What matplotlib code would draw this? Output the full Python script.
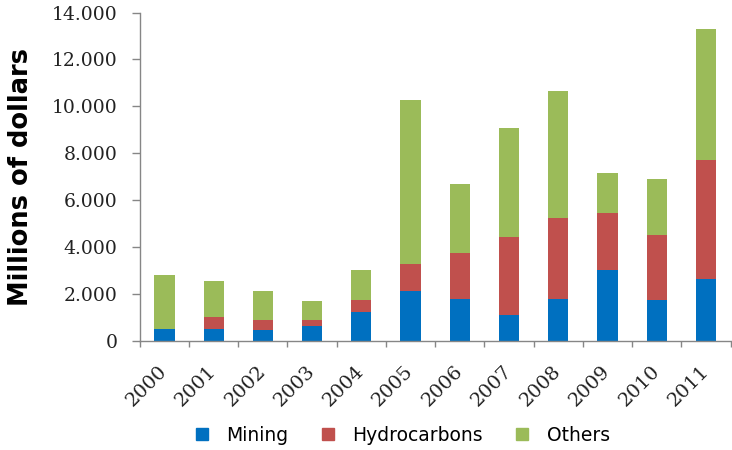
import matplotlib
matplotlib.use('Agg')
import matplotlib.pyplot as plt
from matplotlib.ticker import FuncFormatter, MultipleLocator
from matplotlib.lines import Line2D
import numpy as np

years = ['2000', '2001', '2002', '2003', '2004', '2005',
         '2006', '2007', '2008', '2009', '2010', '2011']
mining = [500, 500, 457, 628, 1227, 2137, 1782, 1086, 1795, 3022, 1740, 2624]
hydrocarbons = [-40, 526, 441, 270, 500, 1128, 1979, 3346, 3436, 2436, 2790, 5086]
others = [2308, 1525, 1226, 812, 1295, 7023, 2923, 4646, 5411, 1697, 2381, 5569]

labels = ['Mining', 'Hydrocarbons', 'Others']
colors = ['#0070C0', '#C0504D', '#9BBB59']

m = np.array(mining)
h = np.array(hydrocarbons)
o = np.array(others)
x = np.arange(len(years))

fig = plt.figure(figsize=(7.32, 4.5), dpi=100)
ax = fig.add_axes([0.191, 0.243, 0.807, 0.729])

w = 0.41
ax.bar(x, m, w, color=colors[0], zorder=2)
ax.bar(x, h, w, bottom=np.where(h < 0, 0, m), color=colors[1], zorder=2)
ax.bar(x, o, w, bottom=m + np.clip(h, 0, None), color=colors[2], zorder=2)

ax.set_xlim(-0.5, len(years) - 0.5)
ax.set_ylim(0, 14000)
ax.yaxis.set_major_locator(MultipleLocator(2000))
ax.yaxis.set_major_formatter(FuncFormatter(lambda v, p: f"{v:,.0f}".replace(",", ".")))

for s in ['top', 'right']:
    ax.spines[s].set_visible(False)
for s in ['left', 'bottom']:
    ax.spines[s].set_color('#868686')
    ax.spines[s].set_linewidth(1.0)

ax.tick_params(axis='y', direction='out', length=6, width=1, color='#868686',
               pad=10, labelsize=13.5, labelcolor='#222222')
for t in ax.get_yticklabels():
    t.set_family('DejaVu Serif')

ax.set_xticks(x)
ax.set_xticks(np.arange(-0.5, len(years), 1), minor=True)
ax.set_xticklabels(years, rotation=45, ha='right', va='center',
                   rotation_mode='anchor', family='DejaVu Serif', fontsize=14,
                   color='#222222')
ax.tick_params(axis='x', which='major', length=0, pad=20)
ax.tick_params(axis='x', which='minor', direction='out', length=4.5, width=1,
               color='#868686')

fig.text(21 / 732, 0.607, 'Millions of dollars', rotation=90, ha='center',
         va='center', fontsize=18.5, fontweight='bold', family='DejaVu Sans')

handles = [Line2D([], [], marker='s', linestyle='', markersize=8,
                  markerfacecolor=c, markeredgecolor=c) for c in colors]
fig.legend(handles, labels, loc='center', bbox_to_anchor=(0.548, 0.033), ncol=3,
           frameon=False, fontsize=13.5, handletextpad=0.8, columnspacing=1.6,
           handlelength=1.0)

fig.savefig('out.png', dpi=100)
